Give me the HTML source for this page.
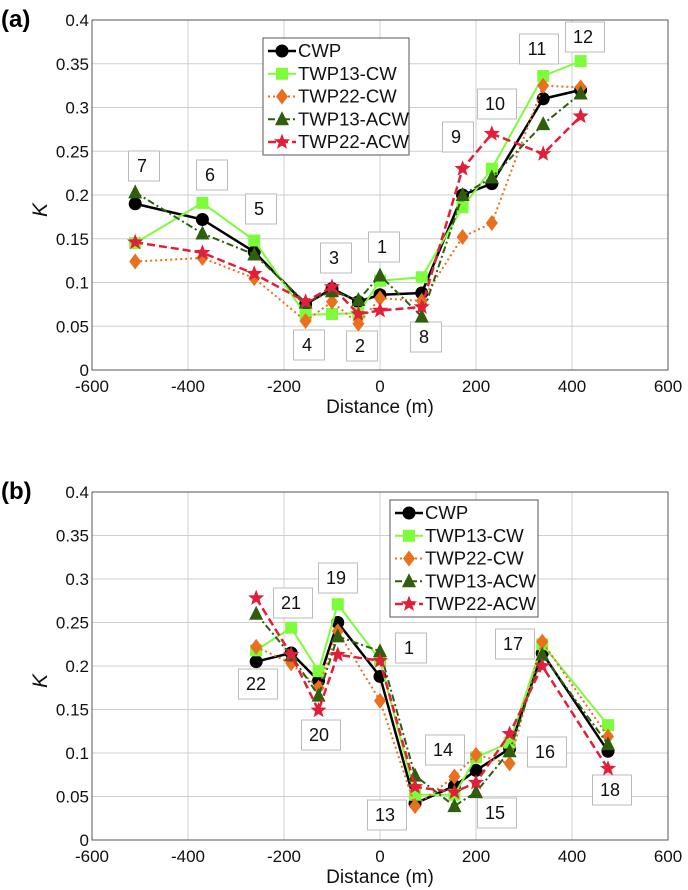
<!DOCTYPE html>
<html><head><meta charset="utf-8"><style>
body{margin:0;background:#fff;}
svg{display:block;font-family:"Liberation Sans",Arial,sans-serif;}
</style></head><body>
<svg id="fig" width="688" height="890"></svg>
<script>
const seriesNames=["CWP","TWP13-CW","TWP22-CW","TWP13-ACW","TWP22-ACW"];
const xTicks=[-600,-400,-200,0,200,400,600];
const yTicks=[0,0.05,0.1,0.15,0.2,0.25,0.3,0.35,0.4];
const yTickLabels=["0","0.05","0.1","0.15","0.2","0.25","0.3","0.35","0.4"];
const xA=[-510,-370,-262,-155,-100,-45,0,87,172,233,340,418];
const aCWP=[.19,.172,.135,.075,.093,.078,.086,.088,.2,.213,.31,.32];
const aT13CW=[.145,.191,.148,.063,.064,.065,.102,.106,.186,.23,.336,.353];
const aT22CW=[.124,.128,.105,.056,.078,.053,.082,.079,.152,.168,.325,.323];
const aT13ACW=[.203,.156,.132,.077,.09,.08,.108,.061,.2,.22,.281,.316];
const aT22ACW=[.146,.134,.11,.078,.095,.064,.068,.072,.23,.27,.247,.29];
const xB=[-258,-185,-128,-88,0,73,155,200,270,338,475];
const bCWP=[.205,.215,.183,.25,.188,.042,.062,.08,.105,.215,.102];
const bT13CW=[.218,.244,.194,.271,.207,.052,.052,.095,.112,.225,.132];
const bT22CW=[.222,.203,.175,.24,.16,.039,.073,.098,.088,.228,.119];
const bT13ACW=[.26,.212,.166,.234,.217,.074,.039,.055,.102,.213,.11];
const bT22ACW=[.278,.213,.149,.213,.206,.061,.055,.066,.122,.2,.082];
const labelsA=[["7",144,166],["6",212,175],["5",261,209],["3",336,258],["1",384,247],["4",309,345],["2",362,346],["8",426,337],["9",458,137],["10",497,104],["11",539,49],["12",585,37]];
const labelsB=[["21",293,603],["19",338,578],["22",258,684],["20",321,735],["1",411,648],["14",445,750],["13",387,815],["15",497,813],["17",515,644],["16",547,752],["18",612,790]];

const NS="http://www.w3.org/2000/svg";
const svg=document.getElementById('fig');
function el(t,a,p){const e=document.createElementNS(NS,t);for(const k in a)e.setAttribute(k,a[k]);(p||svg).appendChild(e);return e;}
const styles=[
 {c:"#000",dash:"",w:2.5,m:"circle"},
 {c:"#7CFC3A",dash:"",w:2,m:"square"},
 {c:"#E8701E",dash:"2,3",w:2,m:"diamond"},
 {c:"#2E5E0E",dash:"7,3,2,3",w:2,m:"triangle"},
 {c:"#E0203A",dash:"8,4",w:2.5,m:"star"}];
function marker(g,type,x,y,c){
 let e;
 if(type==="circle")e=el('circle',{cx:x,cy:y,r:6.5,fill:c},g);
 else if(type==="square")e=el('rect',{x:x-6,y:y-6,width:12,height:12,fill:c},g);
 else if(type==="diamond")e=el('polygon',{points:`${x},${y-8} ${x+6},${y} ${x},${y+8} ${x-6},${y}`,fill:c},g);
 else if(type==="triangle")e=el('polygon',{points:`${x},${y-8} ${x+7},${y+6} ${x-7},${y+6}`,fill:c},g);
 else{let p=[];for(let i=0;i<10;i++){const r=i%2?3.6:8.5,a=-Math.PI/2+i*Math.PI/5;p.push((x+r*Math.cos(a)).toFixed(1)+","+(y+r*Math.sin(a)).toFixed(1));}e=el('polygon',{points:p.join(" "),fill:c},g);}
 return e;
}
function panel(id,top,bottom,xs,data,labels,leg,tag){
 const L=92,R=668;
 const X=v=>L+(v+600)/1200*(R-L);
 const Y=v=>bottom-v/0.4*(bottom-top);
 const g=el('g',{});
 
 
 xTicks.forEach(t=>{el('line',{x1:X(t),x2:X(t),y1:top,y2:bottom,stroke:"#cfcfcf","stroke-width":1},g);
  const tx=el('text',{x:X(t),y:bottom+22,"text-anchor":"middle","font-size":17,fill:"#111"},g);tx.textContent=t;
  });
 yTicks.forEach((t,i)=>{el('line',{x1:L,x2:R,y1:Y(t),y2:Y(t),stroke:"#cfcfcf","stroke-width":1},g);
  const tx=el('text',{x:L-3,y:Y(t)+6,"text-anchor":"end","font-size":17,fill:"#111"},g);tx.textContent=yTickLabels[i];
  });
 el('rect',{x:L,y:top,width:R-L,height:bottom-top,fill:"none",stroke:"#555","stroke-width":1},g);
 const xt=el('text',{x:(L+R)/2,y:bottom+43,"text-anchor":"middle","font-size":19,fill:"#111"},g);xt.textContent="Distance (m)";
 
 const cy=(top+bottom)/2+15;
 const yt=el('text',{x:0,y:0,"text-anchor":"middle","font-size":21,"font-style":"italic",fill:"#111",transform:`translate(47,${cy}) rotate(-90)`},g);yt.textContent="K";
 
 const pt=el('text',{x:1,y:top+7,"font-size":24,"font-weight":"bold",fill:"#000"},g);pt.textContent=tag;
 
 labels.forEach(l=>{const w=l[0].length>1?39:31;
  const b=el('rect',{x:l[1]-w/2,y:l[2]-15,width:w,height:30,fill:"#fff",stroke:"#bbb","stroke-width":1},g);
  
  const t=el('text',{x:l[1]-2,y:l[2]+6,"text-anchor":"middle","font-size":18,fill:"#111"},g);t.textContent=l[0];
  });
 data.forEach((vals,si)=>{const s=styles[si];
  const pl=el('polyline',{points:vals.map((v,i)=>X(xs[i])+","+Y(v)).join(" "),fill:"none",stroke:s.c,"stroke-width":s.w,"stroke-dasharray":s.dash},g);
  
  vals.forEach((v,i)=>{const m=marker(g,s.m,X(xs[i]),Y(v),s.c);
   });});
 const lg=el('g',{},g);
 
 el('rect',{x:leg.x,y:leg.y,width:leg.w,height:leg.h,fill:"#fff",stroke:"#555","stroke-width":1},lg);
 seriesNames.forEach((n,i)=>{const s=styles[i],yy=leg.y+leg.p+i*leg.s;
  const e=el('g',{},lg);
  
  el('line',{x1:leg.x+5,x2:leg.x+33,y1:yy,y2:yy,stroke:s.c,"stroke-width":s.w,"stroke-dasharray":s.dash},e);
  marker(e,s.m,leg.x+19,yy,s.c);
  const t=el('text',{x:leg.x+35,y:yy+6,"font-size":leg.f,fill:"#111"},e);t.textContent=n;});
}
panel('panel-a',20,370,xA,[aCWP,aT13CW,aT22CW,aT13ACW,aT22ACW],labelsA,{x:263,y:38,w:146,h:117,p:13,s:22.75,f:18.5},"(a)");
panel('panel-b',492,840,xB,[bCWP,bT13CW,bT22CW,bT13ACW,bT22ACW],labelsB,{x:390,y:500,w:148,h:117,p:13,s:22.75,f:18.5},"(b)");
</script>
</body></html>
